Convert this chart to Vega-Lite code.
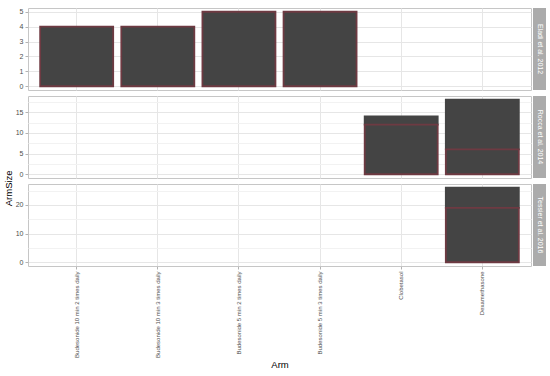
{
  "$schema": "https://vega.github.io/schema/vega-lite/v6.json",
  "padding": {"left": 4, "top": 7, "right": 5, "bottom": 0},
  "background": "white",
  "title": {"text": "ArmSize", "orient": "left", "anchor": "middle", "fontSize": 9.5, "fontWeight": "normal", "font": "Liberation Sans", "color": "#000000", "offset": 1},
  "config": {
    "font": "Liberation Sans",
    "view": {"stroke": "#c6c6c6", "strokeWidth": 1},
    "axis": {"labelFont": "Liberation Sans", "labelFontSize": 7, "labelColor": "#4d4d4d", "tickColor": "#b3b3b3", "tickSize": 3, "domain": false, "titleFont": "Liberation Sans", "titleFontWeight": "normal", "titleFontSize": 9.5, "titleColor": "#000000", "labelPadding": 2, "gridColor": "#e6e6e6"},
    "concat": {"spacing": 4}
  },
  "datasets": {
    "bars": [
      {"Study": "Eladi et al. 2012", "Arm": "Budesonide 10 min 2 times daily", "Group": "A", "ArmSize": 4},
      {"Study": "Eladi et al. 2012", "Arm": "Budesonide 10 min 3 times daily", "Group": "A", "ArmSize": 4},
      {"Study": "Eladi et al. 2012", "Arm": "Budesonide 5 min 2 times daily", "Group": "A", "ArmSize": 5},
      {"Study": "Eladi et al. 2012", "Arm": "Budesonide 5 min 3 times daily", "Group": "A", "ArmSize": 5},
      {"Study": "Rocca et al. 2014", "Arm": "Clobetasol", "Group": "B", "ArmSize": 2},
      {"Study": "Rocca et al. 2014", "Arm": "Dexamethasone", "Group": "B", "ArmSize": 12},
      {"Study": "Tessier et al. 2016", "Arm": "Dexamethasone", "Group": "B", "ArmSize": 7},
      {"Study": "Rocca et al. 2014", "Arm": "Clobetasol", "Group": "A", "ArmSize": 12},
      {"Study": "Rocca et al. 2014", "Arm": "Dexamethasone", "Group": "A", "ArmSize": 6},
      {"Study": "Tessier et al. 2016", "Arm": "Dexamethasone", "Group": "A", "ArmSize": 19}
    ],
    "strips": [
      {"Study": "Eladi et al. 2012"},
      {"Study": "Rocca et al. 2014"},
      {"Study": "Tessier et al. 2016"}
    ]
  },
  "resolve": {"scale": {"x": "independent", "y": "independent"}},
  "vconcat": [
    {
      "spacing": 1,
      "resolve": {"scale": {"x": "independent", "y": "independent"}},
      "hconcat": [
        {
          "width": 503, "height": 82,
          "data": {"name": "bars"},
          "transform": [{"filter": "datum.Study === 'Eladi et al. 2012'"}],
          "mark": {"type": "bar", "fill": "#444444", "strokeWidth": 1.8},
          "encoding": {
            "x": {"field": "Arm", "type": "nominal", "sort": null, "title": null,
              "scale": {"domain": ["Budesonide 10 min 2 times daily", "Budesonide 10 min 3 times daily", "Budesonide 5 min 2 times daily", "Budesonide 5 min 3 times daily", "Clobetasol", "Dexamethasone"], "paddingInner": 0.1, "paddingOuter": 0.15},
              "axis": {"labels": false, "ticks": false, "grid": true, "gridColor": "#e6e6e6"}},
            "y": {"field": "ArmSize", "type": "quantitative", "stack": "zero", "title": null,
              "scale": {"domain": [-0.25, 5.25], "nice": false, "zero": false},
              "axis": {"values": [0, 0.5, 1, 1.5, 2, 2.5, 3, 3.5, 4, 4.5, 5], "format": "d",
                "labelExpr": "datum.value % 1 === 0 ? datum.label : ''",
                "gridColor": {"condition": {"test": "datum.value % 1 !== 0", "value": "#f2f2f2"}, "value": "#e6e6e6"},
                "tickOpacity": {"condition": {"test": "datum.value % 1 !== 0", "value": 0}, "value": 1}}},
            "stroke": {"field": "Group", "type": "nominal", "scale": {"domain": ["A", "B"], "range": ["#6e3a42", "#444444"]}, "legend": null},
            "order": {"field": "Group"}
          }
        },
        {
          "width": 13, "height": 82,
          "view": {"fill": "#ababab", "stroke": null},
          "data": {"name": "strips"},
          "transform": [{"filter": "datum.Study === 'Eladi et al. 2012'"}],
          "mark": {"type": "text", "angle": 90, "color": "#ffffff", "fontSize": 7, "font": "Liberation Sans"},
          "encoding": {"text": {"field": "Study"}}
        }
      ]
    },
    {
      "spacing": 1,
      "resolve": {"scale": {"x": "independent", "y": "independent"}},
      "hconcat": [
        {
          "width": 503, "height": 82,
          "data": {"name": "bars"},
          "transform": [{"filter": "datum.Study === 'Rocca et al. 2014'"}],
          "mark": {"type": "bar", "fill": "#444444", "strokeWidth": 1.8},
          "encoding": {
            "x": {"field": "Arm", "type": "nominal", "sort": null, "title": null,
              "scale": {"domain": ["Budesonide 10 min 2 times daily", "Budesonide 10 min 3 times daily", "Budesonide 5 min 2 times daily", "Budesonide 5 min 3 times daily", "Clobetasol", "Dexamethasone"], "paddingInner": 0.1, "paddingOuter": 0.15},
              "axis": {"labels": false, "ticks": false, "grid": true, "gridColor": "#e6e6e6"}},
            "y": {"field": "ArmSize", "type": "quantitative", "stack": "zero", "title": null,
              "scale": {"domain": [-0.9, 18.9], "nice": false, "zero": false},
              "axis": {"values": [0, 2.5, 5, 7.5, 10, 12.5, 15, 17.5],
                "labelExpr": "datum.value % 5 === 0 ? datum.label : ''",
                "gridColor": {"condition": {"test": "datum.value % 5 !== 0", "value": "#f2f2f2"}, "value": "#e6e6e6"},
                "tickOpacity": {"condition": {"test": "datum.value % 5 !== 0", "value": 0}, "value": 1}}},
            "stroke": {"field": "Group", "type": "nominal", "scale": {"domain": ["A", "B"], "range": ["#6e3a42", "#444444"]}, "legend": null},
            "order": {"field": "Group"}
          }
        },
        {
          "width": 13, "height": 82,
          "view": {"fill": "#ababab", "stroke": null},
          "data": {"name": "strips"},
          "transform": [{"filter": "datum.Study === 'Rocca et al. 2014'"}],
          "mark": {"type": "text", "angle": 90, "color": "#ffffff", "fontSize": 7, "font": "Liberation Sans"},
          "encoding": {"text": {"field": "Study"}}
        }
      ]
    },
    {
      "spacing": 1,
      "resolve": {"scale": {"x": "independent", "y": "independent"}},
      "hconcat": [
        {
          "width": 503, "height": 82,
          "data": {"name": "bars"},
          "transform": [{"filter": "datum.Study === 'Tessier et al. 2016'"}],
          "mark": {"type": "bar", "fill": "#444444", "strokeWidth": 1.8},
          "encoding": {
            "x": {"field": "Arm", "type": "nominal", "sort": null, "title": "Arm",
              "scale": {"domain": ["Budesonide 10 min 2 times daily", "Budesonide 10 min 3 times daily", "Budesonide 5 min 2 times daily", "Budesonide 5 min 3 times daily", "Clobetasol", "Dexamethasone"], "paddingInner": 0.1, "paddingOuter": 0.15},
              "axis": {"labelAngle": -90, "labelFontSize": 6, "grid": true, "gridColor": "#e6e6e6", "labelLimit": 200, "titlePadding": 2, "tickSize": 3}},
            "y": {"field": "ArmSize", "type": "quantitative", "stack": "zero", "title": null,
              "scale": {"domain": [-1.3, 27.3], "nice": false, "zero": false},
              "axis": {"values": [0, 5, 10, 15, 20, 25],
                "labelExpr": "datum.value % 10 === 0 ? datum.label : ''",
                "gridColor": {"condition": {"test": "datum.value % 10 !== 0", "value": "#f2f2f2"}, "value": "#e6e6e6"},
                "tickOpacity": {"condition": {"test": "datum.value % 10 !== 0", "value": 0}, "value": 1}}},
            "stroke": {"field": "Group", "type": "nominal", "scale": {"domain": ["A", "B"], "range": ["#6e3a42", "#444444"]}, "legend": null},
            "order": {"field": "Group"}
          }
        },
        {
          "width": 13, "height": 82,
          "view": {"fill": "#ababab", "stroke": null},
          "data": {"name": "strips"},
          "transform": [{"filter": "datum.Study === 'Tessier et al. 2016'"}],
          "mark": {"type": "text", "angle": 90, "color": "#ffffff", "fontSize": 7, "font": "Liberation Sans"},
          "encoding": {"text": {"field": "Study"}}
        }
      ]
    }
  ]
}
